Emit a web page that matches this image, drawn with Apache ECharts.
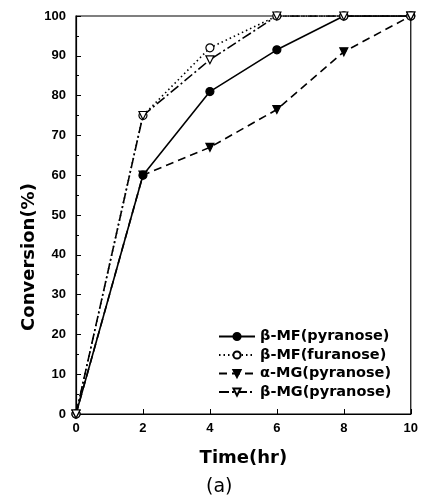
<!DOCTYPE html>
<html>
<head>
<meta charset="utf-8">
<script src="https://cdn.jsdelivr.net/npm/echarts@6/dist/echarts.min.js"></script>
<style>
html, body { margin: 0; padding: 0; background: #fff; }
#main { width: 421px; height: 499px; }
</style>
</head>
<body>
<div id="main"></div>
<script>
var chart = echarts.init(document.getElementById('main'));

// 时间 (hr)
var times = [0, 2, 4, 6, 8, 10];
var mfPyranose = [0, 60, 81, 91.5, 100, 100];
var mfFuranose = [0, 75, 92, 100, 100, 100];
var mgAlphaPyranose = [0, 60, 67, 76.5, 91, 100];
var mgBetaPyranose = [0, 75, 89, 100, 100, 100];

function pairs(vals) {
    var out = [];
    for (var i = 0; i < times.length; i++) {
        out.push([times[i], vals[i]]);
    }
    return out;
}

var font = 'Liberation Sans, Arial, sans-serif';
var wideFont = 'DejaVu Sans, sans-serif';

function makeSeries(name, vals, symbol, filled, lineType) {
    return {
        name: name,
        type: 'line',
        data: pairs(vals),
        symbol: symbol,
        symbolSize: 8,
        showSymbol: true,
        animation: false,
        lineStyle: { color: '#000', width: 1.6, type: lineType },
        itemStyle: {
            color: filled ? '#000' : '#fff',
            borderColor: '#000',
            borderWidth: 1.2
        }
    };
}

option = {
    backgroundColor: '#fff',
    grid: {
        left: 76, right: 6, top: 16, bottom: 85,
        show: true, borderColor: '#000', borderWidth: 1.2
    },
    legend: {
        left: 213, top: 324,
        orient: 'vertical',
        itemWidth: 36, itemHeight: 9, itemGap: 3.5,
        textStyle: { fontFamily: wideFont, fontWeight: 'bold', fontSize: 14.5, color: '#000' },
        data: ['β-MF(pyranose)', 'β-MF(furanose)', 'α-MG(pyranose)', 'β-MG(pyranose)']
    },
    xAxis: {
        type: 'value',
        min: 0, max: 10, interval: 2,
        name: 'Time(hr)',
        nameLocation: 'middle',
        nameGap: 35,
        nameTextStyle: { fontFamily: wideFont, fontWeight: 'bold', fontSize: 18, color: '#000' },
        axisLine: { lineStyle: { color: '#000', width: 1.2 } },
        axisTick: { inside: true, length: 5, lineStyle: { color: '#000' } },
        axisLabel: { fontFamily: font, fontWeight: 'bold', fontSize: 13, color: '#000', margin: 8 },
        splitLine: { show: false }
    },
    yAxis: {
        type: 'value',
        min: 0, max: 100, interval: 10,
        name: 'Conversion(%)',
        nameLocation: 'middle',
        nameGap: 38,
        nameMoveOverlap: false,
        nameTextStyle: {
            fontFamily: wideFont, fontWeight: 'bold', fontSize: 18, color: '#000',
            padding: [0, 84, 0, 0]
        },
        axisLine: { lineStyle: { color: '#000', width: 1.2 } },
        axisTick: { inside: true, length: 5, lineStyle: { color: '#000' } },
        minorTick: { show: true, splitNumber: 2, length: 3, lineStyle: { color: '#000' } },
        axisLabel: { fontFamily: font, fontWeight: 'bold', fontSize: 13, color: '#000', margin: 10 },
        splitLine: { show: false }
    },
    graphic: [{
        type: 'text',
        left: 206,
        top: 478,
        style: { text: '(a)', font: '19px ' + wideFont, fill: '#000' }
    }],
    series: [
        makeSeries('β-MF(pyranose)', mfPyranose, 'circle', true, 'solid'),
        makeSeries('β-MF(furanose)', mfFuranose, 'circle', false, [1.5, 3]),
        makeSeries('α-MG(pyranose)', mgAlphaPyranose, 'triangle', true, [8, 5]),
        makeSeries('β-MG(pyranose)', mgBetaPyranose, 'triangle', false, [10, 3, 2, 3])
    ]
};

// 三角形朝下
option.series[2].symbolRotate = 180;
option.series[3].symbolRotate = 180;

chart.setOption(option);
</script>
</body>
</html>
